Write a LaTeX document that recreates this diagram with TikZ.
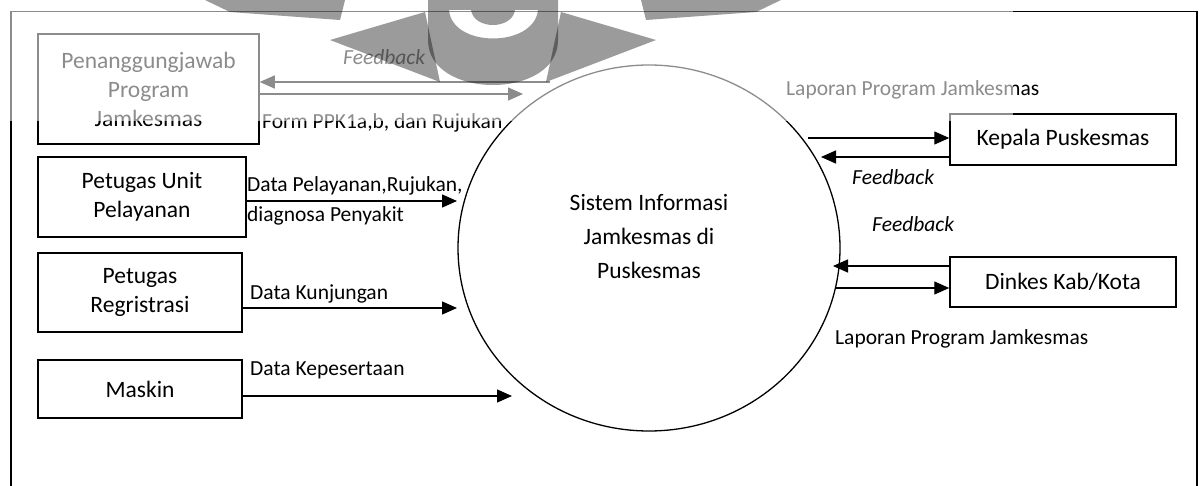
\documentclass[tikz,border=0pt]{standalone}
\usepackage{fontspec}
\setmainfont{Carlito}
\usetikzlibrary{arrows.meta,shapes.geometric}

\definecolor{wmgray}{HTML}{9B9B9B}

\tikzset{
  entity/.style={draw=black, line width=1.5pt, align=center, inner sep=0pt,
    font=\fontsize{23.5}{29}\selectfont},
  process/.style={ellipse, draw=black, line width=1.3pt, inner sep=0pt},
  proctext/.style={align=center, inner sep=0pt, font=\fontsize{23.5}{34}\selectfont},
  lbl/.style={anchor=west, inner sep=0pt, align=left, font=\fontsize{21.5}{30}\selectfont},
  lblit/.style={lbl, font=\fontsize{21.5}{30}\selectfont\itshape},
  flow/.style={line width=1.4pt, -{Triangle[length=15pt,width=13pt]}},
}

\begin{document}
\begin{tikzpicture}[x=1pt,y=-1pt]
\useasboundingbox (0,0) rectangle (1201,486);
\clip (0,0) rectangle (1201,486);
\fill[white] (0,0) rectangle (1201,486);

% outer frame (runs past the lower edge)
\draw[line width=1.8pt] (11,520) -- (11,11.5) -- (1197,11.5) -- (1197,520);

% external entities
\node[entity, minimum width=221, minimum height=110] (pj) at (148.5,89) {Penanggungjawab\\Program\\Jamkesmas};
\node[entity, minimum width=208, minimum height=80] (pu) at (142,197) {Petugas Unit\\Pelayanan};
\node[entity, minimum width=204, minimum height=79] (pr) at (140,292.5) {Petugas\\Regristrasi};
\node[entity, minimum width=204, minimum height=58] (mk) at (140,389) {Maskin};
\node[entity, minimum width=226, minimum height=51] (kp) at (1063,139.5) {Kepala Puskesmas};
\node[entity, minimum width=226, minimum height=50] (dk) at (1063,282) {Dinkes Kab/Kota};

% the system
\node[process, minimum width=382, minimum height=366] (sys) at (649,248) {};
\node[proctext] (systxt) at (649,237) {Sistem Informasi\\Jamkesmas di\\Puskesmas};

% free ends of the data flows
\coordinate (fbStart) at (550,82);
\coordinate (ppkEnd) at (523,94);
\coordinate (plyEnd) at (457,201);
\coordinate (kunEnd) at (457,308);
\coordinate (kepEnd) at (512,396);
\coordinate (kpOut) at (808,138);
\coordinate (kpIn) at (821,157);
\coordinate (dkIn) at (833,266);
\coordinate (dkOut) at (835,288);

% data flows
\draw[flow] (fbStart) -- (pj.east |- fbStart);
\draw[flow] (pj.east |- ppkEnd) -- (ppkEnd);
\draw[flow] (pu.east |- plyEnd) -- (plyEnd);
\draw[flow] (pr.east |- kunEnd) -- (kunEnd);
\draw[flow] (mk.east |- kepEnd) -- (kepEnd);
\draw[flow] (kpOut) -- (kp.west |- kpOut);
\draw[flow] (kp.west |- kpIn) -- (kpIn);
\draw[flow] (dk.west |- dkIn) -- (dkIn);
\draw[flow] (dkOut) -- (dk.west |- dkOut);

% flow labels
\node[lblit] (lfb1) at (343,57) {Feedback};
\node[lbl] (lppk) at (262,123) {Form PPK1a,b, dan Rujukan};
\node[lbl] (lply) at (247,201) {Data Pelayanan,Rujukan,\\diagnosa Penyakit};
\node[lbl] (lkun) at (250,294) {Data Kunjungan};
\node[lbl] (lkep) at (250,370) {Data Kepesertaan};
\node[lbl] (llap1) at (786,90) {Laporan Program Jamkesmas};
\node[lblit] (lfb2) at (852,177) {Feedback};
\node[lblit] (lfb3) at (872,224) {Feedback};
\node[lbl] (llap2) at (835,339) {Laporan Program Jamkesmas};

% faded band and emblem printed over the top of the page
\fill[white, opacity=0.55] (0,0) rectangle (1013,121);
\begin{scope}[blend mode=multiply]
\fill[wmgray] (205,0) -- (345,0) -- (340,20) -- (230,12) -- cycle;
\fill[wmgray] (781,0) -- (641,0) -- (646,20) -- (756,12) -- cycle;
\fill[wmgray] (330,40) -- (425,12) -- (440,82) -- cycle;
\fill[wmgray] (656,40) -- (561,12) -- (546,82) -- cycle;
\fill[wmgray, even odd rule]
  (428,0) -- (428,40) .. controls (428,100) and (558,100) .. (558,40) -- (558,0) -- cycle
  (449,10) .. controls (452,48) and (534,48) .. (538,10) -- (515,10)
    .. controls (512,30) and (474,30) .. (471,10) -- cycle;
\end{scope}
\end{tikzpicture}
\end{document}
